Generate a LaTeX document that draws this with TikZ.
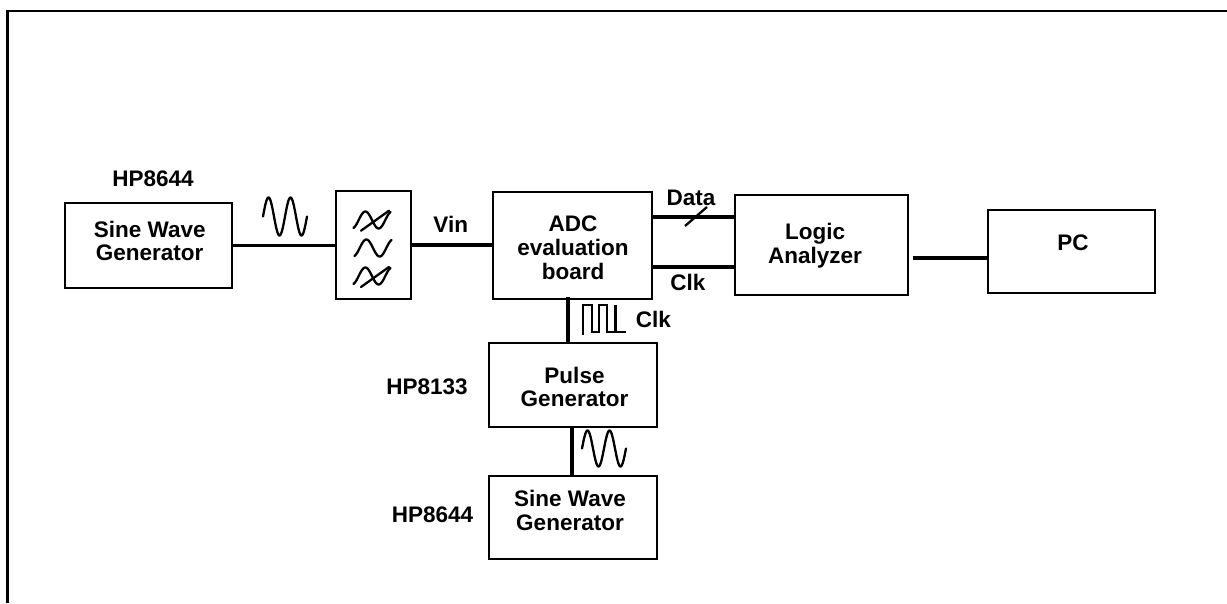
\documentclass[tikz,border=0pt]{standalone}
\usepackage{fontspec}
\setmainfont{Liberation Sans}
\newcommand\dfont{\fontsize{22.5}{23.8}\selectfont\bfseries}
\begin{document}
\begin{tikzpicture}[x=1pt,y=-1pt,
  box/.style={draw, line width=2pt, inner sep=0pt, minimum width=#1},
  txt/.style={font=\dfont, align=center, inner sep=0pt},
  wire/.style={line width=3.6pt},
  sym/.style={line width=2.3pt, line join=round, line cap=round}]
\useasboundingbox (0,0) rectangle (1227,603);
% frame
\draw[line width=2.5pt] (7.5,603) -- (7.5,11) -- (1227,11);

% boxes
\node[box=167pt, minimum height=85pt] (sine1) at (148.5,245.5) {};
\node[box=75pt, minimum height=108pt] (filt) at (373.5,245) {};
\node[box=159pt, minimum height=107pt] (adc) at (572.5,245.5) {};
\node[box=173pt, minimum height=100pt] (logic) at (821.5,245) {};
\node[box=167pt, minimum height=83pt] (pc) at (1071.5,251.5) {};
\node[box=168pt, minimum height=84pt] (pulse) at (573,385) {};
\node[box=168pt, minimum height=83pt] (sine2) at (573,517.5) {};

% box texts
\node[txt] (sine1t) at (149.7,241) {Sine Wave\\Generator};
\node[txt] (adct) at (573,247.5) {ADC\\evaluation\\board};
\node[txt] (logict) at (815,245.7) {Logic\\Analyzer};
\node[txt] (pct) at (1073,243) {PC};
\node[txt] (pulset) at (574.5,387) {Pulse\\Generator};
\node[txt] (sine2t) at (570,510.8) {Sine Wave\\Generator};

% labels
\node[txt] (hp1) at (153,178.5) {HP8644};
\node[txt] (vin) at (450.7,224.5) {Vin};
\node[txt] (data) at (691,197.5) {Data};
\node[txt] (clk1) at (688,282.5) {Clk};
\node[txt] (clk2) at (653.5,319.5) {Clk};
\node[txt] (hp2) at (427,386.7) {HP8133};
\node[txt] (hp3) at (432.5,515) {HP8644};

% connectors
\draw[wire] (sine1.east) -- (sine1.east -| filt.west);
\draw[wire] (filt.east) -- (filt.east -| adc.west);
\draw[wire] ([yshift=28.8pt]adc.east) -- ([yshift=28.8pt]adc.east -| logic.west);
\draw[wire] ([yshift=-21.2pt]adc.east) -- ([yshift=-21.2pt]adc.east -| logic.west);
\draw[wire] ([xshift=3.7pt,yshift=-12.7pt]logic.east) -- ([yshift=-12.7pt]logic.east -| pc.west);
\draw[wire] ([xshift=-4.5pt,yshift=3pt]adc.south) -- ([xshift=-4.5pt]adc.south |- pulse.north);
\draw[wire] ([xshift=-1pt]pulse.south) -- ([xshift=-1pt]pulse.south |- sine2.north);

% sine symbols
\draw[sym] plot[domain=0:720, samples=80, smooth] ({263+\x/720*44}, {216.5-19*sin(\x)});
\draw[sym] plot[domain=0:720, samples=80, smooth] ({582+\x/720*44}, {448.5-18*sin(\x)});

% filter symbols
\draw[sym] plot[domain=-70:430, samples=50, smooth] ({372+(\x-180)/500*37}, {220-8.5*sin(\x)});
\draw[sym] plot[domain=-70:430, samples=50, smooth] ({373+(\x-180)/500*37}, {248-8.5*sin(\x)});
\draw[sym] plot[domain=-70:430, samples=50, smooth] ({372+(\x-180)/500*37}, {276-8.5*sin(\x)});
\draw[sym] (361,230.7) -- (389,210.7);
\draw[sym] (361,287) -- (389,267);

% data bus slash
\draw[line width=2.3pt] (685,226) -- (707,207);

% clock pulse symbol
\draw[line width=2.6pt, line join=miter] (583,335) -- (583,305) -- (592,305) -- (592,332) -- (599,332) -- (599,305) -- (607,305) -- (607,332) -- (626,332);
\draw[line width=2.6pt] (615.5,305) -- (615.5,332);
\end{tikzpicture}
\end{document}
